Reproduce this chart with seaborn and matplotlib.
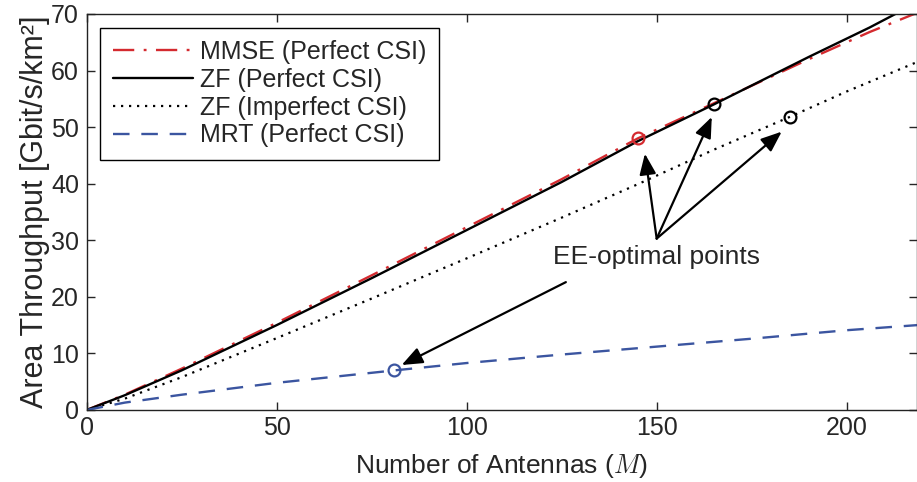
import numpy as np
import pandas as pd
import matplotlib
matplotlib.use("Agg")
import matplotlib.pyplot as plt
import seaborn as sns

# values
antennas = [0, 10, 25, 50, 75, 100, 125, 145, 165, 190, 206, 218.5]
mmse_perfect = [0, 2.7, 7.3, 15.4, 23.8, 32.3, 40.8, 48.0, 54.2, 62.0, 66.8, 70.2]
zf_perfect = [0, 2.6, 7.0, 15.0, 23.3, 31.8, 40.3, 47.5, 54.0, 62.4, 67.6, 72.0]

antennas_imp = [0, 10, 25, 50, 75, 100, 125, 145, 165, 185, 200, 218.5]
zf_imperfect = [0, 2.0, 5.8, 12.7, 19.7, 26.8, 34.0, 39.9, 46.0, 51.8, 56.3, 61.5]

antennas_mrt = [0, 10, 25, 50, 81, 100, 125, 150, 175, 200, 218.5]
mrt_perfect = [0, 1.3, 2.7, 4.8, 7.0, 8.3, 9.8, 11.2, 12.6, 14.1, 15.0]

# EE-optimal points
ee_mmse = (145, 48.0)
ee_zf = (165, 54.0)
ee_zf_imp = (185, 51.8)
ee_mrt = (81, 7.0)

labels = ["MMSE (Perfect CSI)", "ZF (Perfect CSI)",
          "ZF (Imperfect CSI)", "MRT (Perfect CSI)"]

red = "#d42a2f"
blue = "#3b55a0"

sns.set_style("ticks")
plt.rcParams["font.family"] = ["Liberation Sans", "DejaVu Sans"]
plt.rcParams["mathtext.fontset"] = "cm"

fig = plt.figure(figsize=(9.17, 4.82), dpi=100)
ax = fig.add_axes([0.0945, 0.1494, 0.9055, 0.8216])

sns.lineplot(x=antennas, y=mmse_perfect, ax=ax, color=red, lw=1.7,
             linestyle=(0, (9, 4, 1.2, 4)), label=labels[0])
sns.lineplot(x=antennas, y=zf_perfect, ax=ax, color="k", lw=1.7,
             linestyle="-", label=labels[1])
sns.lineplot(x=antennas_imp, y=zf_imperfect, ax=ax, color="k", lw=1.6,
             linestyle=(0, (1, 2.6)), label=labels[2])
sns.lineplot(x=antennas_mrt, y=mrt_perfect, ax=ax, color=blue, lw=1.7,
             linestyle=(0, (7, 5)), label=labels[3])

for pt, c in [(ee_mmse, red), (ee_zf, "k"), (ee_zf_imp, "k"), (ee_mrt, blue)]:
    ax.plot(pt[0], pt[1], "o", mfc="none", mec=c, mew=1.6, ms=8.5)

ax.text(150, 27.0, "EE-optimal points", ha="center", va="center", fontsize=19)

arrow = dict(arrowstyle="-|>,head_length=0.7,head_width=0.28", color="k",
             lw=1.6, mutation_scale=18, shrinkA=0, shrinkB=0)
tail = (150, 30.3)
for head in [(146.9, 45.3), (164.5, 51.8), (182.9, 49.2)]:
    ax.annotate("", xy=head, xytext=tail, arrowprops=arrow)
ax.annotate("", xy=(82.9, 7.95), xytext=(126.1, 22.6), arrowprops=arrow)

ax.set_xlim(0, 218.5)
ax.set_ylim(0, 70)
ax.set_xticks([0, 50, 100, 150, 200])
ax.set_yticks(range(0, 71, 10))
ax.tick_params(direction="in", top=True, right=True, length=6, width=1,
               labelsize=18)
ax.tick_params(axis="x", pad=4)
ax.tick_params(axis="y", pad=5.5)
for s in ax.spines.values():
    s.set_linewidth(1)
    s.set_color("#222222")

ax.set_xlabel("Number of Antennas ($M$)", fontsize=19, labelpad=9)
ax.set_ylabel("Area Throughput [Gbit/s/km²]", fontsize=22, labelpad=1)

leg = ax.legend(loc="upper left", fontsize=18, frameon=True, fancybox=False,
                edgecolor="k", framealpha=1, handlelength=3.2,
                labelspacing=0.15, borderaxespad=0.55, borderpad=0.5,
                handletextpad=0.3)
leg.get_frame().set_linewidth(1)

fig.savefig("out.png", dpi=100)
